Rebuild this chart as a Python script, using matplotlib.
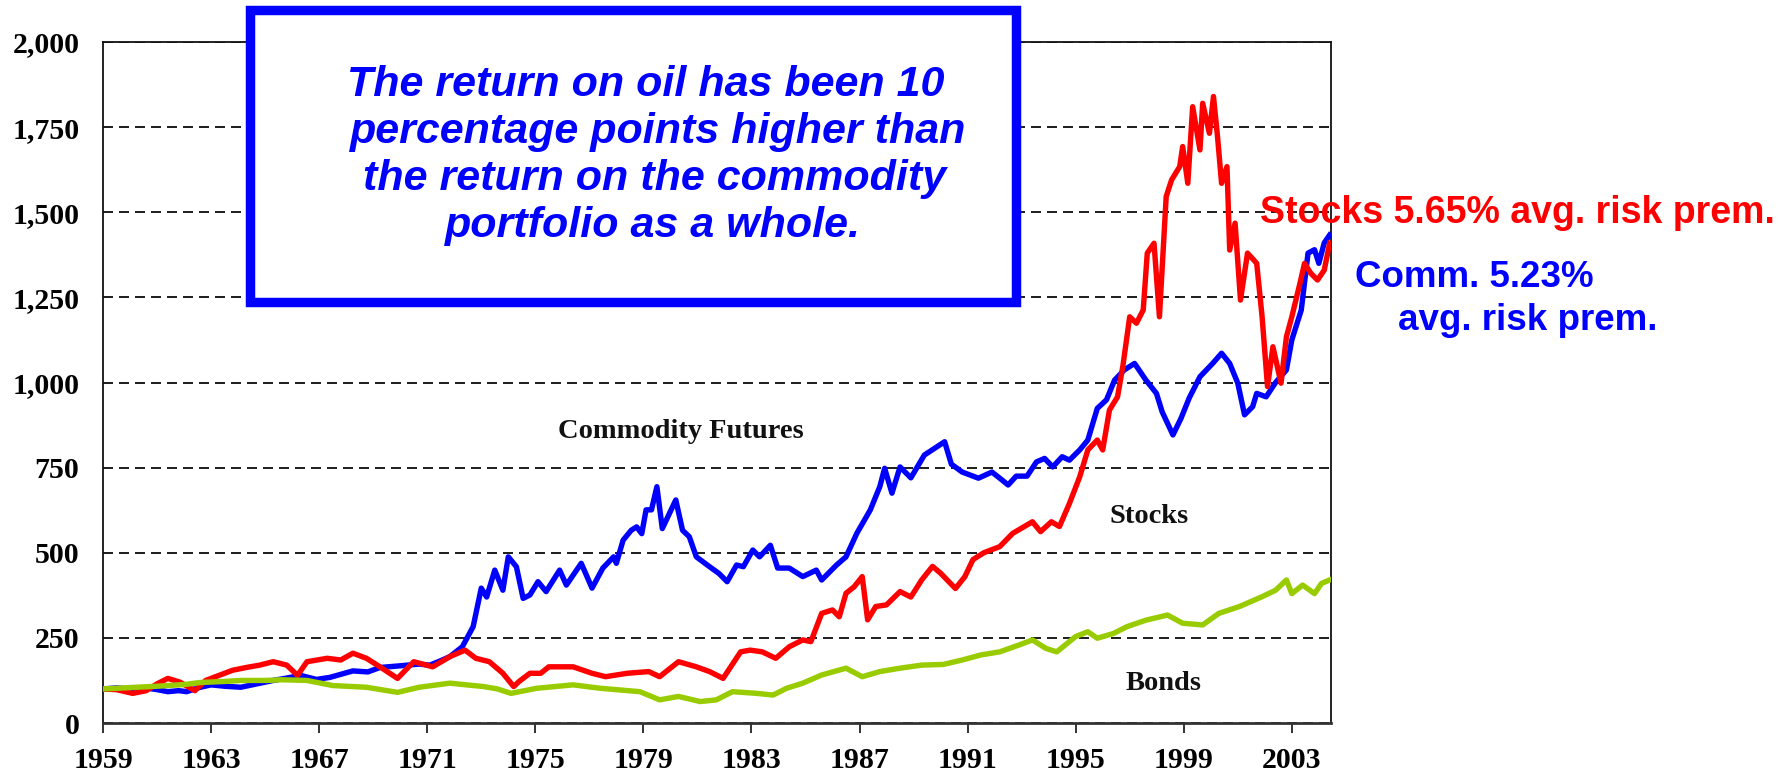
import matplotlib
matplotlib.use("Agg")
import matplotlib.pyplot as plt
from matplotlib.patches import Rectangle

# ---------------- data ----------------
comm_years = [1959.0, 1959.5, 1960.0, 1960.5, 1961.0, 1961.4, 1961.8, 1962.1, 1962.5, 1963.0,
              1963.5, 1964.1, 1964.7, 1965.3, 1965.8, 1966.3, 1966.9, 1967.4, 1967.9, 1968.25,
              1968.8, 1969.25, 1970.0, 1970.7, 1971.1, 1971.5, 1971.84, 1972.3, 1972.7, 1973.0,
              1973.2, 1973.5, 1973.8, 1974.0, 1974.3, 1974.55, 1974.8, 1975.1, 1975.4, 1975.9,
              1976.15, 1976.7, 1977.1, 1977.5, 1977.9, 1978.0, 1978.25, 1978.55, 1978.75, 1978.94,
              1979.1, 1979.3, 1979.5, 1979.7, 1979.96, 1980.2, 1980.45, 1980.7, 1980.96, 1981.45,
              1981.8, 1982.1, 1982.45, 1982.7, 1983.05, 1983.3, 1983.7, 1983.97, 1984.4, 1984.9,
              1985.4, 1985.6, 1986.15, 1986.5, 1986.9, 1987.4, 1987.75, 1987.93, 1988.2, 1988.5,
              1988.9, 1989.4, 1989.9, 1990.15, 1990.4, 1990.8, 1991.4, 1991.9, 1992.19, 1992.5,
              1992.8, 1993.2, 1993.55, 1993.85, 1994.15, 1994.5, 1994.77, 1995.15, 1995.45, 1995.8,
              1996.14, 1996.44, 1996.8, 1997.18, 1997.6, 1997.99, 1998.2, 1998.6, 1998.9, 1999.2,
              1999.6, 2000.07, 2000.4, 2000.7, 2001.0, 2001.25, 2001.55, 2001.7, 2002.05, 2002.4,
              2002.8, 2003.0, 2003.35, 2003.6, 2003.84, 2004.0, 2004.2, 2004.4]
comm_values = [100, 103, 100, 104, 98, 92, 95, 92, 103, 112,
               108, 105, 115, 125, 132, 140, 128, 134, 145, 153,
               150, 163, 168, 173, 170, 183, 195, 224, 283, 396,
               370, 449, 390, 488, 459, 366, 376, 415, 386, 449,
               405, 469, 396, 455, 488, 469, 537, 566, 576, 556,
               626, 626, 694, 571, 615, 655, 566, 547, 488, 459,
               439, 415, 464, 459, 508, 488, 522, 455, 455, 430,
               449, 420, 464, 488, 557, 626, 694, 748, 675, 752,
               720, 787, 813, 826, 760, 737, 719, 737, 719, 699,
               725, 725, 767, 777, 752, 782, 772, 802, 831, 924,
               949, 1007, 1037, 1056, 1007, 968, 914, 846, 895, 954,
               1017, 1056, 1086, 1056, 998, 905, 929, 968, 958, 1000,
               1037, 1125, 1213, 1380, 1390, 1350, 1410, 1433]

stock_years = [1959.0, 1959.5, 1960.1, 1960.6, 1961.0, 1961.4, 1961.85, 1962.4, 1962.8, 1963.3,
               1963.8, 1964.3, 1964.8, 1965.3, 1965.8, 1966.2, 1966.55, 1967.3, 1967.8, 1968.25,
               1968.75, 1969.25, 1969.9, 1970.5, 1971.2, 1971.84, 1972.4, 1972.8, 1973.3, 1973.8,
               1974.2, 1974.4, 1974.8, 1975.2, 1975.5, 1976.4, 1977.1, 1977.6, 1978.4, 1979.2,
               1979.6, 1980.3, 1980.96, 1981.45, 1981.95, 1982.6, 1982.95, 1983.4, 1983.9, 1984.4,
               1984.9, 1985.2, 1985.6, 1986.0, 1986.25, 1986.5, 1986.8, 1987.1, 1987.3, 1987.6,
               1988.0, 1988.5, 1988.9, 1989.3, 1989.7, 1990.0, 1990.55, 1990.9, 1991.2, 1991.6,
               1992.19, 1992.67, 1993.4, 1993.7, 1994.1, 1994.4, 1994.77, 1995.15, 1995.45, 1995.8,
               1996.0, 1996.25, 1996.55, 1996.75, 1997.0, 1997.25, 1997.5, 1997.65, 1997.9, 1998.1,
               1998.35, 1998.55, 1998.85, 1998.96, 1999.15, 1999.33, 1999.6, 1999.7, 1999.95, 2000.1,
               2000.25, 2000.4, 2000.6, 2000.7, 2000.9, 2001.1, 2001.36, 2001.7, 2001.9, 2002.1,
               2002.3, 2002.6, 2002.8, 2003.0, 2003.3, 2003.47, 2003.7, 2003.95, 2004.2, 2004.4]
stock_values = [100, 98, 87, 95, 115, 131, 120, 95, 125, 140,
                155, 163, 170, 180, 170, 140, 180, 190, 185, 205,
                190, 165, 131, 180, 165, 195, 214, 190, 180, 146,
                107, 122, 146, 146, 165, 165, 146, 136, 146, 151,
                136, 180, 165, 151, 131, 209, 214, 209, 190, 224,
                244, 239, 322, 332, 312, 381, 400, 430, 303, 342,
                347, 386, 370, 420, 460, 440, 395, 430, 480, 500,
                518, 557, 591, 562, 591, 577, 645, 723, 802, 831,
                802, 919, 958, 1050, 1193, 1174, 1213, 1380, 1409, 1193,
                1546, 1595, 1634, 1693, 1585, 1810, 1683, 1820, 1732, 1840,
                1722, 1585, 1634, 1389, 1468, 1242, 1380, 1350, 1193, 988,
                1105, 998, 1134, 1193, 1291, 1350, 1321, 1301, 1330, 1409]

bond_years = [1959.0, 1960.0, 1961.0, 1962.0, 1962.6, 1963.5, 1964.1, 1965.05, 1965.6, 1966.55,
              1967.5, 1968.75, 1969.9, 1970.7, 1971.84, 1972.45, 1973.1, 1973.6, 1974.1, 1975.05,
              1976.4, 1977.4, 1978.87, 1979.6, 1980.3, 1981.1, 1981.7, 1982.3, 1983.2, 1983.8,
              1984.3, 1984.9, 1985.6, 1986.5, 1987.1, 1987.75, 1988.5, 1989.3, 1990.1, 1990.8,
              1991.5, 1992.19, 1992.9, 1993.4, 1993.9, 1994.3, 1995.0, 1995.45, 1995.8, 1996.4,
              1996.9, 1997.6, 1998.4, 1998.96, 1999.7, 2000.3, 2001.06, 2001.9, 2002.4, 2002.8,
              2003.0, 2003.4, 2003.84, 2004.1, 2004.4]
bond_values = [100, 104, 108, 113, 119, 122, 125, 125, 127, 125,
               110, 105, 90, 105, 117, 112, 107, 100, 87, 102,
               112, 102, 92, 68, 78, 63, 68, 92, 87, 82,
               102, 117, 141, 161, 136, 151, 161, 170, 172, 185,
               200, 209, 229, 244, 219, 209, 254, 268, 249, 263,
               283, 302, 317, 293, 288, 322, 342, 371, 390, 420,
               380, 405, 380, 410, 420]

x_ticks = [1959, 1963, 1967, 1971, 1975, 1979, 1983, 1987, 1991, 1995, 1999, 2003]
y_ticks = [0, 250, 500, 750, 1000, 1250, 1500, 1750, 2000]

box_lines = ["The return on oil has been 10",
             "percentage points higher than",
             "the return on the commodity",
             "portfolio as a whole."]

# ---------------- figure ----------------
W, H = 1785, 779
fig = plt.figure(figsize=(W / 100, H / 100), dpi=100)


def fx(px):
    return px / W


def fy(py):
    return 1 - py / H


SERIF = ["Liberation Serif", "DejaVu Serif"]
SANS = ["Liberation Sans", "DejaVu Sans"]

ax = fig.add_axes([fx(103), fy(723), (1331 - 103) / W, (723 - 42) / H])
ax.plot(comm_years, comm_values, color="#0000FF", lw=3.9, solid_joinstyle="round", zorder=3)
ax.plot(stock_years, stock_values, color="#FF0000", lw=3.9, solid_joinstyle="round", zorder=4)
ax.plot(bond_years, bond_values, color="#99CC00", lw=3.9, solid_joinstyle="round", zorder=5)

ax.set_xlim(1959, 2004.45)
ax.set_ylim(0, 2000)
ax.set_xticks(x_ticks)
ax.set_xticklabels([str(y) for y in x_ticks], fontfamily=SERIF, fontweight="bold", fontsize=21.5)
ax.set_yticks(y_ticks)
ax.set_yticklabels([f"{v:,}" for v in y_ticks], fontfamily=SERIF, fontweight="bold", fontsize=21.5)
ax.tick_params(axis="y", length=0, pad=17)
ax.tick_params(axis="x", direction="out", length=7.5, width=1.3, pad=10, color="#222222")
ax.yaxis.grid(True, linestyle=(0, (5, 3)), color="#222222", lw=1.44)
ax.set_axisbelow(True)
for s in ["left", "top", "right"]:
    ax.spines[s].set_linewidth(1.3)
    ax.spines[s].set_color("#111111")
ax.spines["bottom"].set_linewidth(2.0)
ax.spines["bottom"].set_color("#333333")

# in-chart series labels
fig.text(fx(681), fy(438), "Commodity Futures", ha="center", va="baseline",
         fontfamily=SERIF, fontweight="bold", fontsize=20.5, color="#111111")
fig.text(fx(1149), fy(523), "Stocks", ha="center", va="baseline",
         fontfamily=SERIF, fontweight="bold", fontsize=20.5, color="#111111")
fig.text(fx(1164), fy(690), "Bonds", ha="center", va="baseline",
         fontfamily=SERIF, fontweight="bold", fontsize=20.5, color="#111111")

# blue callout box
box = Rectangle((fx(249.5), fy(301.5)), fx(1015.5) - fx(249.5), fy(9.5) - fy(301.5),
                transform=fig.transFigure, facecolor="white", edgecolor="#0000FF",
                lw=6.8, zorder=10)
fig.add_artist(box)
line_x = [646, 658, 655, 653]
line_y = [96, 143, 190, 237]
for txt, lx, ly in zip(box_lines, line_x, line_y):
    fig.text(fx(lx), fy(ly), txt, ha="center", va="baseline", fontfamily=SANS,
             fontweight="bold", fontstyle="italic", fontsize=31, color="#0000FF", zorder=11)

# right-side annotations
fig.text(fx(1260), fy(223), "Stocks 5.65% avg. risk prem.", ha="left", va="baseline",
         fontfamily=SANS, fontweight="bold", fontsize=27, color="#FF0000")
fig.text(fx(1355), fy(287), "Comm. 5.23%", ha="left", va="baseline",
         fontfamily=SANS, fontweight="bold", fontsize=26.5, color="#0000FF")
fig.text(fx(1398), fy(330), "avg. risk prem.", ha="left", va="baseline",
         fontfamily=SANS, fontweight="bold", fontsize=26.5, color="#0000FF")

fig.savefig("out.png", dpi=100, facecolor="white")
